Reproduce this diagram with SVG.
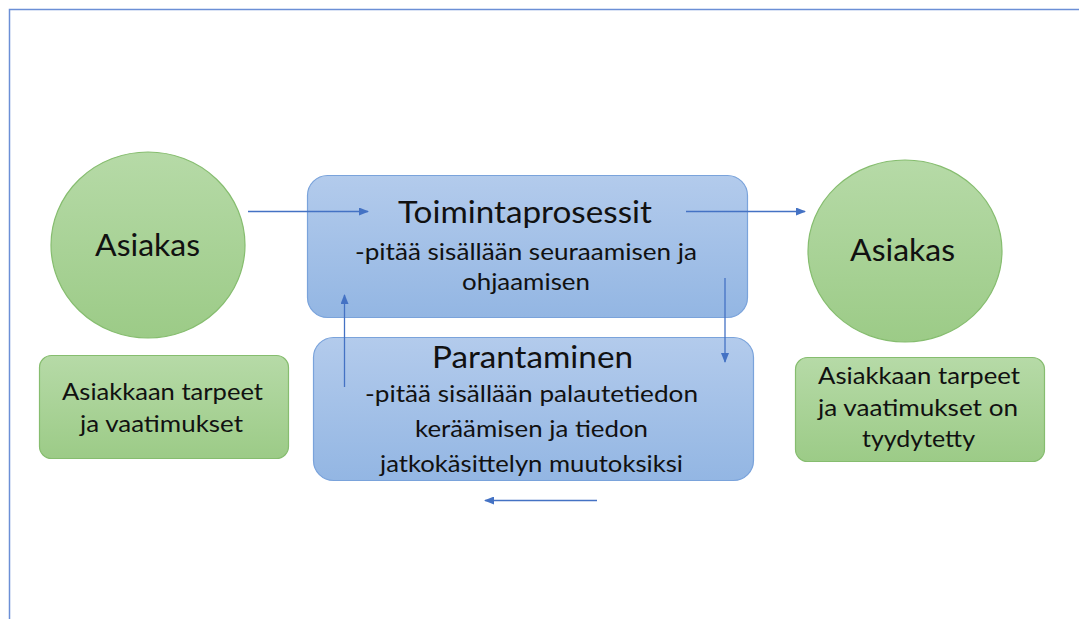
<svg xmlns="http://www.w3.org/2000/svg" width="1079" height="619" viewBox="0 0 1079 619">
<style>
text{font-family:Lato,"Open Sans","Liberation Sans",sans-serif;fill:#111;text-anchor:middle}
.big{font-size:31px}
.mid{font-size:23px}
.sm{font-size:24px}
.blue{fill:url(#gBlue);stroke:#7aa3db;stroke-width:1.2}
.green{fill:url(#gGreen);stroke:#86bd6f;stroke-width:1.2}
.conn{stroke:#4472c4;stroke-width:1.3;fill:none;marker-end:url(#arr)}
</style>
<defs>
<linearGradient id="gBlue" x1="0" y1="0" x2="0" y2="1">
<stop offset="0" stop-color="#b3cbec"/>
<stop offset="1" stop-color="#93b6e3"/>
</linearGradient>
<linearGradient id="gGreen" x1="0" y1="0" x2="0" y2="1">
<stop offset="0" stop-color="#b6daa7"/>
<stop offset="1" stop-color="#9ccb87"/>
</linearGradient>
<marker id="arr" markerWidth="10" markerHeight="8" refX="9" refY="4" orient="auto" markerUnits="userSpaceOnUse">
<path d="M0,0 L10,4 L0,8 Z" fill="#4472c4"/>
</marker>
</defs>
<rect width="1079" height="619" fill="#fff"/>
<path d="M9.5,619 V9.5 H1079" fill="none" stroke="#6b8fd6" stroke-width="1.5"/>

<g id="asiakas-left">
<ellipse cx="148" cy="245" rx="97" ry="93" class="green"/>
<text class="big" x="147.5" y="256" textLength="105" lengthAdjust="spacingAndGlyphs">Asiakas</text>
</g>
<g id="tarpeet-left">
<rect x="39.5" y="355.5" width="249" height="103" rx="12" class="green"/>
<text class="sm" x="162.5" y="400" textLength="201" lengthAdjust="spacingAndGlyphs">Asiakkaan tarpeet</text>
<text class="sm" x="161.5" y="432" textLength="163" lengthAdjust="spacingAndGlyphs">ja vaatimukset</text>
</g>
<g id="toimintaprosessit">
<rect x="307.5" y="175.5" width="440" height="142" rx="20" class="blue"/>
<text class="big" x="525" y="223" textLength="254" lengthAdjust="spacingAndGlyphs">Toimintaprosessit</text>
<text class="mid" x="526" y="260" textLength="342" lengthAdjust="spacingAndGlyphs">-pitää sisällään seuraamisen ja</text>
<text class="mid" x="526" y="290" textLength="128" lengthAdjust="spacingAndGlyphs">ohjaamisen</text>
</g>
<g id="parantaminen">
<rect x="313.5" y="337.5" width="440" height="143" rx="20" class="blue"/>
<text class="big" x="532.5" y="368" textLength="201" lengthAdjust="spacingAndGlyphs">Parantaminen</text>
<text class="mid" x="531.5" y="402" textLength="333" lengthAdjust="spacingAndGlyphs">-pitää sisällään palautetiedon</text>
<text class="mid" x="531.5" y="437" textLength="233" lengthAdjust="spacingAndGlyphs">keräämisen ja tiedon</text>
<text class="mid" x="531.5" y="472" textLength="303" lengthAdjust="spacingAndGlyphs">jatkokäsittelyn muutoksiksi</text>
</g>
<g id="asiakas-right">
<ellipse cx="905" cy="251" rx="97" ry="91" class="green"/>
<text class="big" x="902.5" y="261" textLength="105" lengthAdjust="spacingAndGlyphs">Asiakas</text>
</g>
<g id="tarpeet-right">
<rect x="795.5" y="357.5" width="249" height="104" rx="12" class="green"/>
<text class="sm" x="919" y="384" textLength="202" lengthAdjust="spacingAndGlyphs">Asiakkaan tarpeet</text>
<text class="sm" x="918" y="416" textLength="200" lengthAdjust="spacingAndGlyphs">ja vaatimukset on</text>
<text class="sm" x="918.5" y="447" textLength="113" lengthAdjust="spacingAndGlyphs">tyydytetty</text>
</g>
<g id="connectors">
<line x1="248" y1="211.5" x2="368" y2="211.5" class="conn"/>
<line x1="686" y1="211.5" x2="805" y2="211.5" class="conn"/>
<line x1="344.5" y1="387" x2="344.5" y2="295" class="conn"/>
<line x1="725" y1="278" x2="725" y2="362" class="conn"/>
<line x1="597" y1="500.5" x2="485" y2="500.5" class="conn"/>
</g>
</svg>
